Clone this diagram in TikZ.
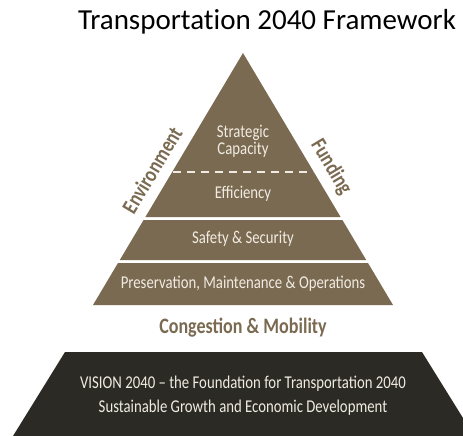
\documentclass[tikz,border=0pt]{standalone}
\usepackage{fontspec}
\setmainfont{Carlito}[Ligatures={TeX,NoCommon}]
\newfontfamily\condfont[FakeStretch=0.82]{Carlito}
\newfontfamily\condbold[FakeStretch=0.82]{Carlito Bold}
\definecolor{pbrown}{HTML}{7A6A51}
\definecolor{pdark}{HTML}{2C2A25}
\definecolor{pcream}{HTML}{F1ECE2}
\tikzset{
  band/.style={fill=pbrown, draw=none},
  bandtext/.style={text=pcream, font=\condfont\fontsize{18}{20}\selectfont, inner sep=0pt, align=center},
  sidetext/.style={text=pbrown, font=\condbold\fontsize{22}{24}\selectfont, inner sep=0pt},
}
\begin{document}
\begin{tikzpicture}[x=1pt,y=-1pt]
\useasboundingbox (0,0) rectangle (463,436);
\node[font=\fontsize{29}{31}\selectfont, anchor=base, inner sep=0pt] (title) at (267,30) {Transportation 2040 Framework};
% pyramid bands
\fill[band] (243,53) -- (340.6,217) -- (145.4,217) -- cycle;
\fill[band] (143.6,220) -- (342.4,220) -- (366.2,260) -- (119.8,260) -- cycle;
\fill[band] (118,263) -- (368,263) -- (393,305) -- (93,305) -- cycle;
\draw[pcream, line width=1.6pt, dash pattern=on 8pt off 6pt] (173,172) -- (313,172);
\node[bandtext] (strat) at (243,141) {Strategic\\[-3pt]Capacity};
\node[bandtext] (eff) at (243,194) {Efficiency};
\node[bandtext] (safe) at (243,239) {Safety \& Security};
\node[bandtext] (pres) at (243,284) {Preservation, Maintenance \& Operations};
\node[sidetext, rotate=59] (env) at (152,170) {Environment};
\node[sidetext, rotate=-59] (fund) at (331,167) {Funding};
\node[text=pbrown, font=\condbold\fontsize{22}{24}\selectfont, inner sep=0pt] (cong) at (243,328) {Congestion \& Mobility};
% base
\fill[pdark] (65,352) -- (422,352) -- (463,418) -- (463,436) -- (13,436) -- cycle;
\node[bandtext, font=\condfont\fontsize{18}{24}\selectfont] (vision) at (243,396) {VISION 2040 – the Foundation for Transportation 2040\\Sustainable Growth and Economic Development};
\end{tikzpicture}
\end{document}
